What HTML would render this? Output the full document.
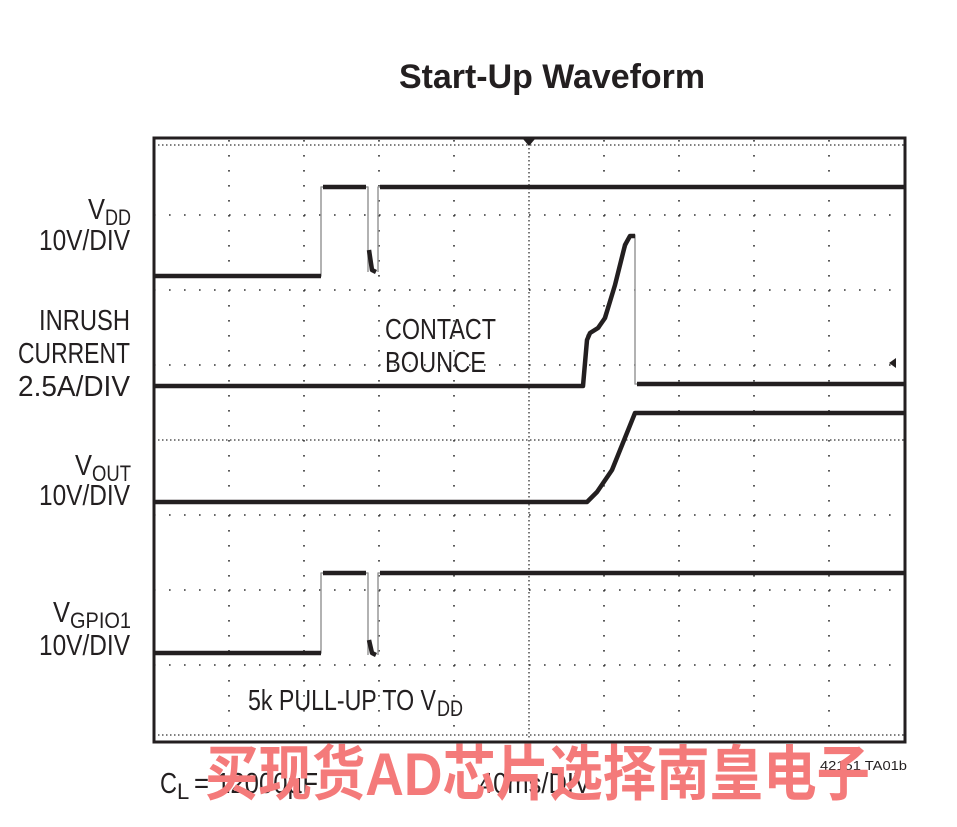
<!DOCTYPE html>
<html><head><meta charset="utf-8"><style>
html,body{margin:0;padding:0;background:#fff;}
svg{display:block}
text{font-family:"Liberation Sans",sans-serif;fill:#231f20}
</style></head><body>
<svg width="957" height="827" viewBox="0 0 957 827" xmlns="http://www.w3.org/2000/svg">
<text x="552" y="88" font-size="34" font-weight="bold" text-anchor="middle" textLength="306" lengthAdjust="spacingAndGlyphs">Start-Up Waveform</text>

<g stroke="#333" stroke-width="1.6" stroke-dasharray="1.6,13.4" fill="none">
<line x1="154" y1="215" x2="904" y2="215"/><line x1="154" y1="290" x2="904" y2="290"/>
<line x1="154" y1="365" x2="904" y2="365"/><line x1="154" y1="515" x2="904" y2="515"/>
<line x1="154" y1="590" x2="904" y2="590"/><line x1="154" y1="665" x2="904" y2="665"/>
<line x1="229" y1="140" x2="229" y2="740"/><line x1="304" y1="140" x2="304" y2="740"/>
<line x1="379" y1="140" x2="379" y2="740"/><line x1="454" y1="140" x2="454" y2="740"/>
<line x1="604" y1="140" x2="604" y2="740"/><line x1="679" y1="140" x2="679" y2="740"/>
<line x1="754" y1="140" x2="754" y2="740"/><line x1="829" y1="140" x2="829" y2="740"/>
</g>
<g stroke="#333" stroke-width="1.3" stroke-dasharray="1.5,2.5" fill="none">
<line x1="154" y1="440" x2="904" y2="440"/><line x1="529" y1="140" x2="529" y2="740"/>
<line x1="154" y1="145" x2="904" y2="145"/><line x1="154" y1="735" x2="904" y2="735"/>
</g>
<rect x="154" y="138" width="751" height="604" fill="none" stroke="#231f20" stroke-width="3"/>
<polygon points="523,139 535,139 529,146" fill="#231f20"/>
<polygon points="896,358 896,368 889,363" fill="#231f20"/>

<g fill="none" stroke-linejoin="round">
<g stroke="#999" stroke-width="1.5">
<path d="M154,276 H321 V187 H368 V272 M378,272 V187 H904"/>
<path d="M154,386 H583 L587,335 L600,328 L630,235 H635 V384 H904"/>
<path d="M154,653 H321 V573 H368 V655 M378,655 V573 H904"/>
</g>
<g stroke="#231f20" stroke-width="4.5">
<path d="M154,276 H321 M323,187 H366 M369,250 L372,270 L376,272 M380,187 H904"/>
<path d="M154,386 H583 L587,340 L590,333 L598,328 L605,318 L615,285 L625,245 L630,236 H635 M637,384 H904"/>
<path d="M154,502 H587 L597,492 L612,470 L635,413 H904"/>
<path d="M154,653 H321 M323,573 H366 M369,640 L372,653 L376,655 M380,573 H904"/>
</g>
</g>

<g font-size="29">
<text x="88" y="219" textLength="17" lengthAdjust="spacingAndGlyphs">V</text>
<text x="105" y="225" font-size="22" textLength="26" lengthAdjust="spacingAndGlyphs">DD</text>
<text x="39" y="250" textLength="91" lengthAdjust="spacingAndGlyphs">10V/DIV</text>
<text x="39" y="330" textLength="91" lengthAdjust="spacingAndGlyphs">INRUSH</text>
<text x="18" y="363" textLength="112" lengthAdjust="spacingAndGlyphs">CURRENT</text>
<text x="18" y="396" textLength="112" lengthAdjust="spacingAndGlyphs">2.5A/DIV</text>
<text x="75" y="475" textLength="17" lengthAdjust="spacingAndGlyphs">V</text>
<text x="92" y="481" font-size="22" textLength="39" lengthAdjust="spacingAndGlyphs">OUT</text>
<text x="39" y="505" textLength="91" lengthAdjust="spacingAndGlyphs">10V/DIV</text>
<text x="53" y="622" textLength="17" lengthAdjust="spacingAndGlyphs">V</text>
<text x="70" y="628" font-size="22" textLength="61" lengthAdjust="spacingAndGlyphs">GPIO1</text>
<text x="39" y="655" textLength="91" lengthAdjust="spacingAndGlyphs">10V/DIV</text>
<text x="385" y="339" textLength="111" lengthAdjust="spacingAndGlyphs">CONTACT</text>
<text x="385" y="372" textLength="101" lengthAdjust="spacingAndGlyphs">BOUNCE</text>
<text x="248" y="710" textLength="188" lengthAdjust="spacingAndGlyphs">5k PULL-UP TO V</text>
<text x="437" y="716" font-size="22" textLength="26" lengthAdjust="spacingAndGlyphs">DD</text>
<text x="160" y="793" textLength="17" lengthAdjust="spacingAndGlyphs">C</text>
<text x="177" y="799" font-size="22">L</text>
<text x="194" y="793" textLength="124" lengthAdjust="spacingAndGlyphs">= 12000µF</text>
<text x="479" y="793" textLength="112" lengthAdjust="spacingAndGlyphs">40ms/DIV</text>
</g>
<text x="820" y="770" font-size="13" textLength="87" lengthAdjust="spacingAndGlyphs">42151 TA01b</text>

<text x="205" y="795" font-size="60" font-weight="bold" style="font-family:'Liberation Sans','Noto Sans CJK SC',sans-serif;fill:#f47a7a" textLength="665" lengthAdjust="spacingAndGlyphs">买现货AD芯片选择南皇电子</text>
</svg>
</body></html>
